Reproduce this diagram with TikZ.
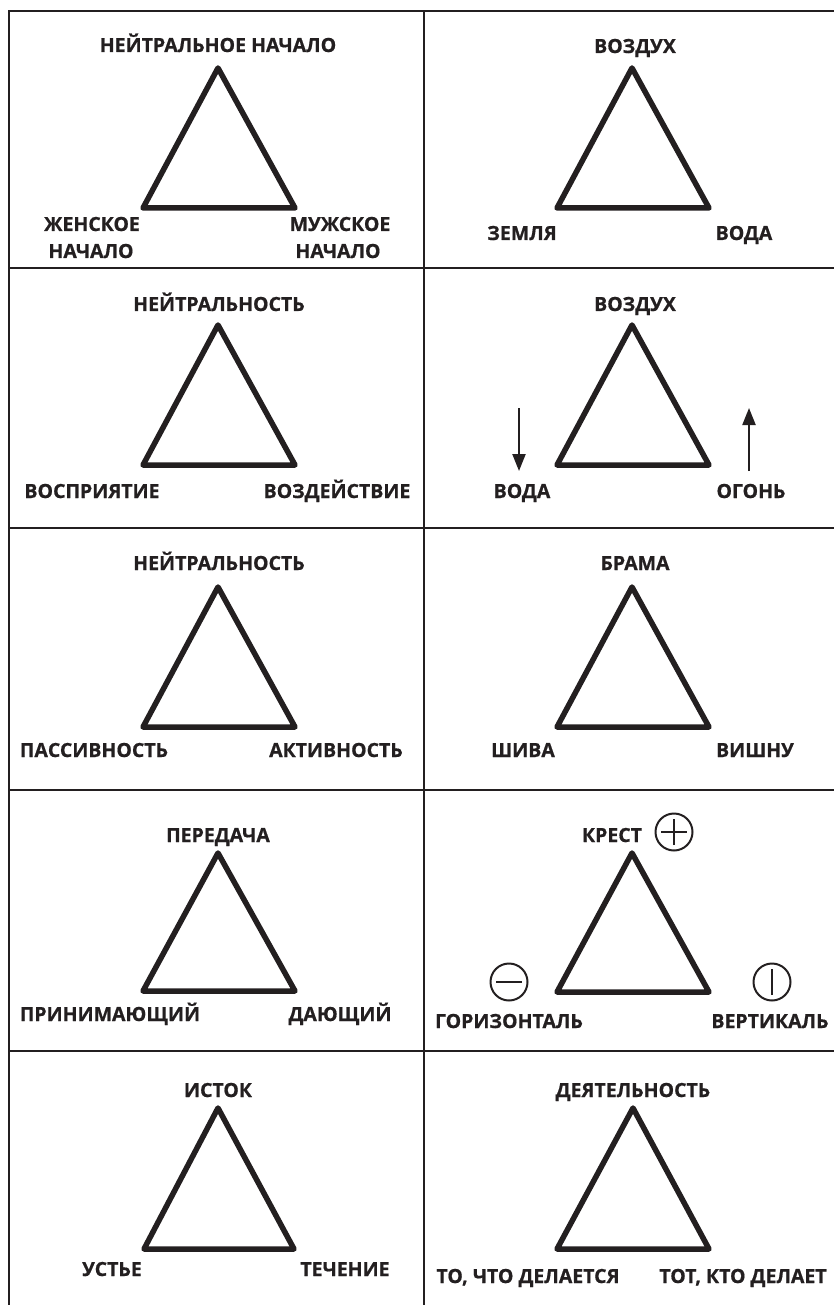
\documentclass[tikz,border=0pt]{standalone}
\usepackage{fontspec}
\setmainfont{Open Sans}[BoldFeatures={FakeBold=0.7}]
\usetikzlibrary{arrows.meta}
\newcommand{\lblfont}{\fontsize{19.5}{21}\selectfont\bfseries}
\definecolor{ink}{HTML}{231F20}
\tikzset{
  lab/.style={font=\lblfont, inner sep=0pt, anchor=base, text=ink, align=center},
  tri/.style={line width=5.5pt, line join=round, draw=ink},
  frm/.style={line width=2.6pt, draw=ink},
  arr/.style={line width=2.2pt, draw=ink, -{Triangle[length=17pt,width=13pt]}},
  sym/.style={circle, draw=ink, line width=2pt, minimum size=37pt, inner sep=0pt},
  bar/.style={line width=2pt, draw=ink}
}
\begin{document}
\begin{tikzpicture}[x=1pt,y=-1pt]
\useasboundingbox (0,0) rectangle (834,1305);
% frame
\coordinate (tl) at (9,11);
\coordinate (tr) at (834,11);
\coordinate (bl) at (9,1305);
\coordinate (tm) at (424,11);
\coordinate (bm) at (424,1305);
\draw[frm] (bl) -- (tl) -- (tr);
\draw[frm] (tm) -- (bm);
\foreach \y in {268,528,790,1051} {
  \draw[frm] (9,\y) -- (834,\y);
}
% ---------- Row 1
\coordinate (a1) at (218,68); \coordinate (b1) at (143,208); \coordinate (c1) at (295,208);
\draw[tri] (a1) -- (b1) -- (c1) -- cycle;
\node[lab] (t1) at (218,52) {НЕЙТРАЛЬНОЕ НАЧАЛО};
\node[lab] (l1) at (92,231) {ЖЕНСКОЕ};
\node[lab] (l1b) at (91,258) {НАЧАЛО};
\node[lab] (r1) at (340,231) {МУЖСКОЕ};
\node[lab] (r1b) at (338,258) {НАЧАЛО};

\coordinate (a2) at (632,68); \coordinate (b2) at (557,208); \coordinate (c2) at (709,208);
\draw[tri] (a2) -- (b2) -- (c2) -- cycle;
\node[lab] (t2) at (635,53) {ВОЗДУХ};
\node[lab] (l2) at (522,240) {ЗЕМЛЯ};
\node[lab] (r2) at (744,240) {ВОДА};

% ---------- Row 2
\coordinate (a3) at (218,325); \coordinate (b3) at (143,465); \coordinate (c3) at (295,465);
\draw[tri] (a3) -- (b3) -- (c3) -- cycle;
\node[lab] (t3) at (219,311) {НЕЙТРАЛЬНОСТЬ};
\node[lab] (l3) at (92,498) {ВОСПРИЯТИЕ};
\node[lab] (r3) at (337,498) {ВОЗДЕЙСТВИЕ};

\coordinate (a4) at (632,325); \coordinate (b4) at (557,465); \coordinate (c4) at (709,465);
\draw[tri] (a4) -- (b4) -- (c4) -- cycle;
\node[lab] (t4) at (635,311) {ВОЗДУХ};
\node[lab] (l4) at (522,498) {ВОДА};
\node[lab] (r4) at (751,498) {ОГОНЬ};
\coordinate (dn1) at (519,408); \coordinate (dn2) at (519,471);
\coordinate (up1) at (749,471); \coordinate (up2) at (749,408);
\draw[arr] (dn1) -- (dn2);
\draw[arr] (up1) -- (up2);

% ---------- Row 3
\coordinate (a5) at (218,587); \coordinate (b5) at (143,727); \coordinate (c5) at (295,727);
\draw[tri] (a5) -- (b5) -- (c5) -- cycle;
\node[lab] (t5) at (219,570) {НЕЙТРАЛЬНОСТЬ};
\node[lab] (l5) at (94,757) {ПАССИВНОСТЬ};
\node[lab] (r5) at (336,757) {АКТИВНОСТЬ};

\coordinate (a6) at (632,587); \coordinate (b6) at (557,727); \coordinate (c6) at (709,727);
\draw[tri] (a6) -- (b6) -- (c6) -- cycle;
\node[lab] (t6) at (635,570) {БРАМА};
\node[lab] (l6) at (523,757) {ШИВА};
\node[lab] (r6) at (755,757) {ВИШНУ};

% ---------- Row 4
\coordinate (a7) at (218,853); \coordinate (b7) at (143,991); \coordinate (c7) at (295,991);
\draw[tri] (a7) -- (b7) -- (c7) -- cycle;
\node[lab] (t7) at (218,842) {ПЕРЕДАЧА};
\node[lab] (l7) at (110,1021) {ПРИНИМАЮЩИЙ};
\node[lab] (r7) at (340,1021) {ДАЮЩИЙ};

\coordinate (a8) at (632,853); \coordinate (b8) at (557,992); \coordinate (c8) at (709,992);
\draw[tri] (a8) -- (b8) -- (c8) -- cycle;
\node[lab] (t8) at (612,842) {КРЕСТ};
\node[lab] (l8) at (509,1028) {ГОРИЗОНТАЛЬ};
\node[lab] (r8) at (770,1028) {ВЕРТИКАЛЬ};
\node[sym] (plus) at (674,832) {};
\draw[bar] ([xshift=-13pt]plus.center) -- ([xshift=13pt]plus.center);
\draw[bar] ([yshift=-13pt]plus.center) -- ([yshift=13pt]plus.center);
\node[sym] (minus) at (509,982) {};
\draw[bar] ([xshift=-13pt]minus.center) -- ([xshift=13pt]minus.center);
\node[sym] (vbar) at (772,982) {};
\draw[bar] ([yshift=-13pt]vbar.center) -- ([yshift=13pt]vbar.center);

% ---------- Row 5
\coordinate (a9) at (218,1108); \coordinate (b9) at (144,1249); \coordinate (c9) at (294,1249);
\draw[tri] (a9) -- (b9) -- (c9) -- cycle;
\node[lab] (t9) at (218,1097) {ИСТОК};
\node[lab] (l9) at (112,1276) {УСТЬЕ};
\node[lab] (r9) at (345,1276) {ТЕЧЕНИЕ};

\coordinate (a10) at (633,1108); \coordinate (b10) at (557,1249); \coordinate (c10) at (709,1249);
\draw[tri] (a10) -- (b10) -- (c10) -- cycle;
\node[lab] (t10) at (633,1097) {ДЕЯТЕЛЬНОСТЬ};
\node[lab] (l10) at (528,1283) {ТО, ЧТО ДЕЛАЕТСЯ};
\node[lab] (r10) at (743,1283) {ТОТ, КТО ДЕЛАЕТ};
\end{tikzpicture}
\end{document}
